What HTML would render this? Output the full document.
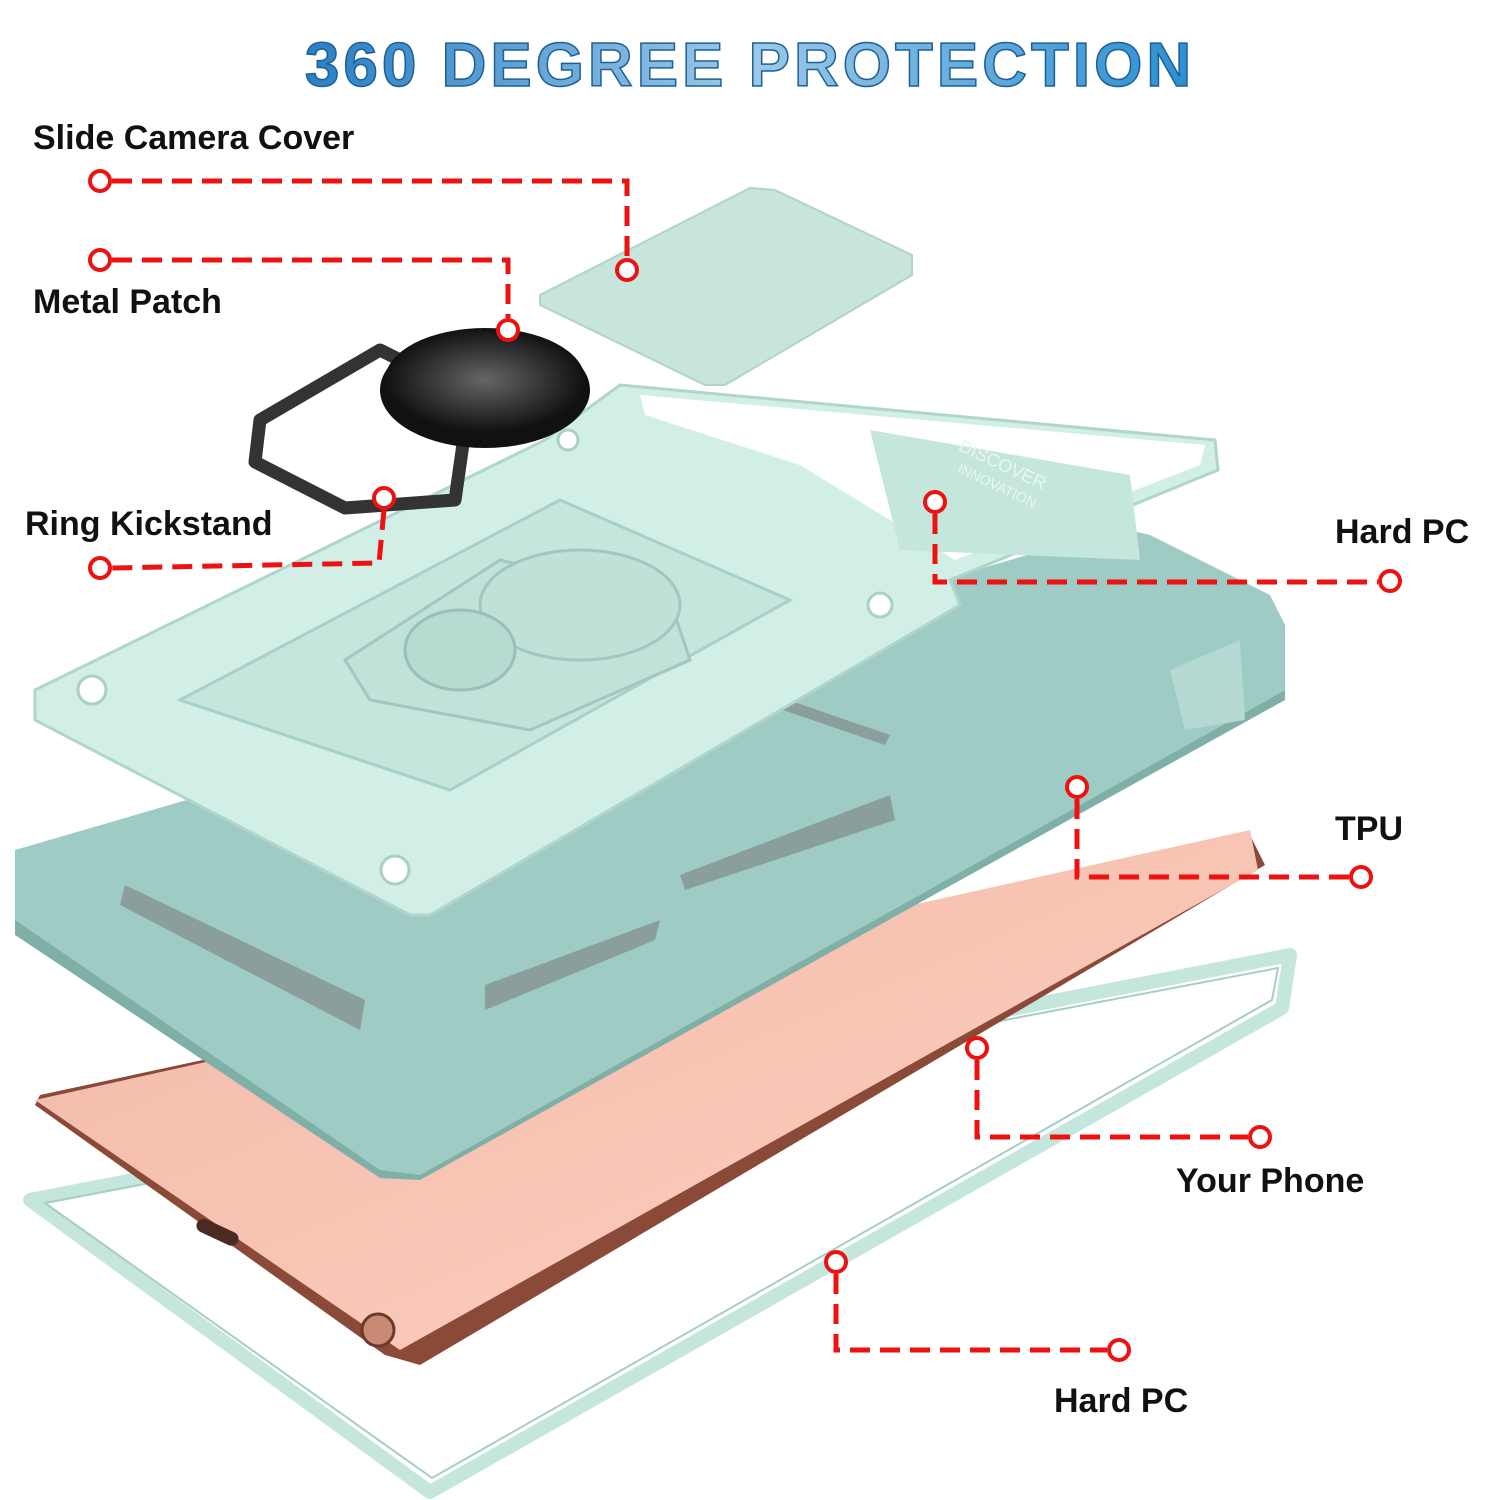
<!DOCTYPE html>
<html><head><meta charset="utf-8"><style>
html,body{margin:0;padding:0;background:#fff;width:1500px;height:1500px;overflow:hidden}
</style></head><body>
<svg width="1500" height="1500" viewBox="0 0 1500 1500" xmlns="http://www.w3.org/2000/svg">
<defs>
<linearGradient id="tg" x1="0" y1="0" x2="1" y2="0">
<stop offset="0" stop-color="#2a7fc4"/><stop offset="0.5" stop-color="#9cc9e6"/><stop offset="1" stop-color="#2a8fd0"/>
</linearGradient>
<linearGradient id="ph" x1="0" y1="0" x2="1" y2="1">
<stop offset="0" stop-color="#f0b8a6"/><stop offset="1" stop-color="#ffd0c2"/>
</linearGradient>
<radialGradient id="rg"><stop offset="0" stop-color="#666"/><stop offset="1" stop-color="#111"/></radialGradient>
</defs>
<text x="750" y="86" text-anchor="middle" font-family="Liberation Sans, sans-serif" font-weight="bold" font-size="62" letter-spacing="4" fill="url(#tg)" stroke="#1d5f98" stroke-width="1.5">360 DEGREE PROTECTION</text>

<!-- bottom frame -->
<polygon points="30,1200 1290,955 1282,1008 430,1492" fill="none" stroke="#c4e6dc" stroke-width="14" stroke-linejoin="round"/>
<polygon points="45,1203 1278,968 1272,1000 432,1478" fill="none" stroke="#a6cfc4" stroke-width="2"/>

<!-- phone -->
<polygon points="35,1105 40,1095 1250,835 1265,865 420,1365 385,1355" fill="#8b4a38"/>
<polygon points="35,1100 1250,830 1258,870 400,1350" fill="url(#ph)"/>
<rect x="195" y="1225" width="45" height="14" rx="7" fill="#4a2a22" transform="rotate(25 217 1232)"/>
<circle cx="378" cy="1330" r="16" fill="#c88a74" stroke="#6a3a2c" stroke-width="3"/>

<!-- TPU case -->
<polygon points="15,850 1120,528 1150,535 1270,595 1285,625 1285,690 420,1175 380,1175 15,930" fill="#9ecbc4"/>
<polygon points="15,920 380,1170 420,1175 1285,690 1285,700 420,1180 380,1178 15,935" fill="#7fb0a8"/>
<polygon points="125,885 365,1000 360,1030 120,905" fill="#8a9f9c"/>
<polygon points="485,985 660,920 655,940 485,1010" fill="#8a9f9c"/>
<polygon points="680,875 890,795 895,820 685,890" fill="#8a9f9c"/>
<polygon points="730,680 890,735 885,745 725,690" fill="#8a9f9c"/>
<polygon points="1170,670 1240,640 1245,720 1185,730" fill="#b4d9d2"/>

<!-- hard PC top plate -->
<polygon points="35,690 545,440 620,385 1215,440 1218,470 950,580 960,605 430,915 410,915 35,720" fill="#d2efe7" stroke="#b0d6cc" stroke-width="3"/>
<polygon points="180,700 560,500 790,600 450,790" fill="#c5e6dc" stroke="#a9d0c6" stroke-width="3"/>
<polygon points="345,660 500,560 670,600 690,660 530,730 370,700" fill="#c0e2d8" stroke="#a0c8be" stroke-width="3"/>
<ellipse cx="580" cy="605" rx="100" ry="55" fill="#bfe1d7" stroke="#a0c8be" stroke-width="3"/>
<ellipse cx="460" cy="650" rx="55" ry="40" fill="#b8dbd1" stroke="#98c0b6" stroke-width="3"/>
<polygon points="640,395 1205,445 1200,465 955,560 800,465 645,415" fill="#fff"/>
<polygon points="870,430 1130,475 1140,560 900,550" fill="#c5e6dc"/>
<text x="1000" y="470" font-family="Liberation Sans, sans-serif" font-size="18" fill="#e9f7f3" transform="rotate(25 1000 470)" text-anchor="middle">DISCOVER</text>
<text x="995" y="490" font-family="Liberation Sans, sans-serif" font-size="14" fill="#e9f7f3" transform="rotate(25 995 490)" text-anchor="middle">INNOVATION</text>
<circle cx="92" cy="690" r="14" fill="#fff" stroke="#a9d0c6" stroke-width="3"/>
<circle cx="395" cy="870" r="14" fill="#fff" stroke="#a9d0c6" stroke-width="3"/>
<circle cx="880" cy="605" r="12" fill="#fff" stroke="#a9d0c6" stroke-width="3"/>
<circle cx="568" cy="440" r="10" fill="#fff" stroke="#a9d0c6" stroke-width="3"/>

<!-- camera cover -->
<polygon points="540,295 750,188 775,190 912,255 912,275 725,385 705,385 540,305" fill="#c7e5dc" stroke="#b0d4c9" stroke-width="2" stroke-linejoin="round"/>

<!-- ring kickstand -->
<path d="M260,420 L380,350 L470,395 L455,500 L345,508 L255,462 Z" fill="none" stroke="#333" stroke-width="13" stroke-linejoin="round"/>
<ellipse cx="485" cy="390" rx="105" ry="58" fill="#111"/>
<ellipse cx="485" cy="380" rx="100" ry="52" fill="url(#rg)"/>

<!-- callouts -->
<g fill="none" stroke="#ee1111" stroke-width="5" stroke-dasharray="20 10">
<polyline points="112,181 627,181 627,258"/>
<polyline points="112,260 508,260 508,318"/>
<polyline points="384,510 379,563 112,568"/>
<polyline points="935,514 935,582 1378,582"/>
<polyline points="1077,799 1077,877 1349,877"/>
<polyline points="977,1060 977,1137 1248,1137"/>
<polyline points="836,1274 836,1350 1107,1350"/>
</g>
<g fill="#fff" stroke="#ee1111" stroke-width="4">
<circle cx="100" cy="181" r="10"/><circle cx="627" cy="270" r="10"/>
<circle cx="100" cy="260" r="10"/><circle cx="508" cy="330" r="10"/>
<circle cx="384" cy="498" r="10"/><circle cx="100" cy="568" r="10"/>
<circle cx="935" cy="502" r="10"/><circle cx="1390" cy="581" r="10"/>
<circle cx="1077" cy="787" r="10"/><circle cx="1361" cy="877" r="10"/>
<circle cx="977" cy="1048" r="10"/><circle cx="1260" cy="1137" r="10"/>
<circle cx="836" cy="1262" r="10"/><circle cx="1119" cy="1350" r="10"/>
</g>
<g font-family="Liberation Sans, sans-serif" font-weight="bold" font-size="34" fill="#111">
<text x="33" y="149">Slide Camera Cover</text>
<text x="33" y="313">Metal Patch</text>
<text x="25" y="535">Ring Kickstand</text>
<text x="1335" y="543">Hard PC</text>
<text x="1335" y="840">TPU</text>
<text x="1176" y="1192">Your Phone</text>
<text x="1054" y="1412">Hard PC</text>
</g>
</svg>
</body></html>
